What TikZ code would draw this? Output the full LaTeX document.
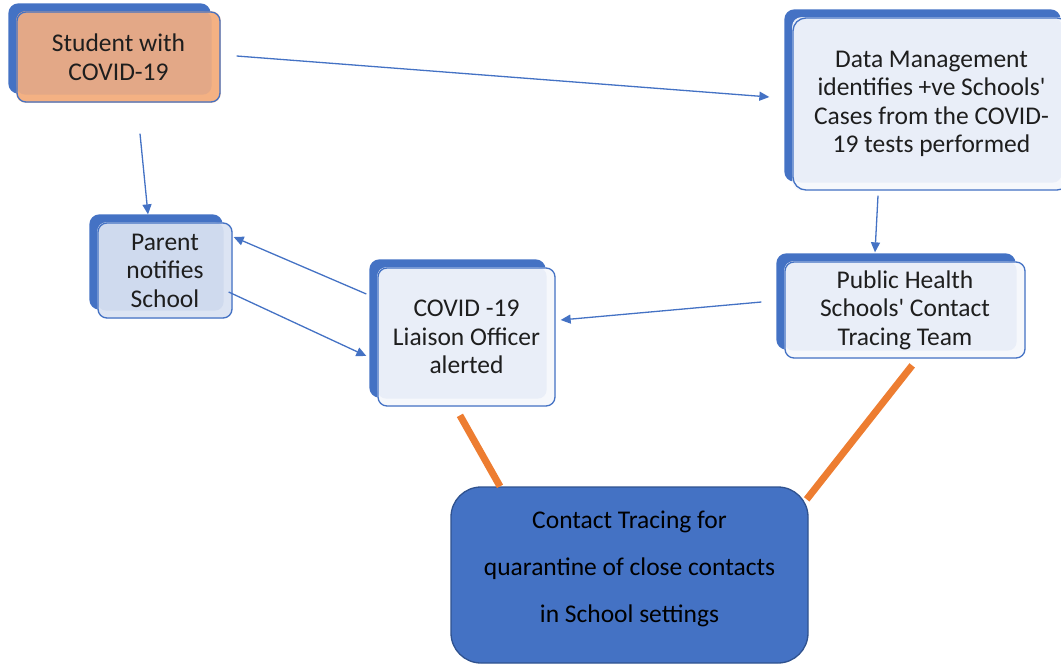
\documentclass[tikz,border=0pt]{standalone}
\usepackage{fontspec}
\setmainfont{Carlito}[Ligatures=TeXOff]
\usetikzlibrary{arrows.meta,calc}
\pgfdeclarelayer{back}
\pgfsetlayers{back,main}
\definecolor{sblue}{HTML}{4472C4}
\definecolor{dblue}{HTML}{2F528F}
\definecolor{orng}{HTML}{ED7D31}
\definecolor{txt}{HTML}{1E1E1E}
\definecolor{rimblue}{HTML}{F6F8FC}
\definecolor{inblue}{HTML}{E9EEF8}
\definecolor{rimpar}{HTML}{DCE4F3}
\definecolor{inpar}{HTML}{CFDAEE}
\definecolor{rimor}{HTML}{F4B183}
\definecolor{inor}{HTML}{E3A887}
\begin{document}
\begin{tikzpicture}[x=1pt,y=-1pt,
  box/.style={draw=sblue, line width=1.3pt, rounded corners=9pt, align=center,
    font=\fontsize{25.5}{28.5}\selectfont, text=txt, inner sep=0pt},
  arr/.style={draw=sblue, line width=1.3pt, -{Triangle[length=10pt,width=9pt]}},
  oline/.style={draw=orng, line width=7pt},
  shad/.style={fill=sblue, rounded corners=10pt}]
\useasboundingbox (0,0) rectangle (1061,665);

\node[box, minimum width=203pt, minimum height=90pt] (student) at (118.5,57) {Student with\\COVID-19};
\node[box, minimum width=277pt, minimum height=172pt, rounded corners=13pt] (data) at (931.5,104) {Data Management\\identifies +ve Schools'\\Cases from the COVID-\\19 tests performed};
\node[box, minimum width=134pt, minimum height=95pt] (parent) at (165,270.5) {Parent\\notifies\\School};
\node[box, minimum width=177pt, minimum height=138pt] (liaison) at (466.5,337) {COVID -19\\Liaison Officer\\alerted};
\node[box, minimum width=240pt, minimum height=96pt] (ph) at (905,310) {Public Health\\Schools' Contact\\Tracing Team};
\node[draw=dblue, fill=sblue, line width=1.3pt, rounded corners=30pt, minimum width=357pt, minimum height=176pt] (ct) at (629.5,575) {};
\node[align=center, font=\fontsize{25.5}{47}\selectfont, text=black] (cttext) at (629.5,569) {Contact Tracing for\\quarantine of close contacts\\in School settings};

\begin{pgfonlayer}{back}
  \foreach \n/\rim/\inn in {student/rimor/inor, data/rimblue/inblue, parent/rimpar/inpar, liaison/rimblue/inblue, ph/rimblue/inblue}{
    \fill[shad] ([shift={(-8,-8)}]\n.north west) rectangle ([shift={(-10,-9)}]\n.south east);
    \fill[\rim, rounded corners=9pt] (\n.north west) rectangle (\n.south east);
    \fill[\inn, rounded corners=9pt] (\n.north west) rectangle ([shift={(-9,-8)}]\n.south east);
  }
\end{pgfonlayer}

\draw[arr] ([shift={(16,-1)}]student.east) -- ([shift={(-23,-7)}]data.west);
\draw[arr] ([shift={(21.5,31)}]student.south) -- ([shift={(-17,-8)}]parent.north);
\draw[arr] ([shift={(-53.5,5)}]data.south) -- ([shift={(-30,-9)}]ph.north);
\draw[arr] ([shift={(-23,-8)}]ph.west) -- ([shift={(5,-17)}]liaison.east);
\draw[arr] ([shift={(-11,-43)}]liaison.west) -- ([shift={(1,-33.5)}]parent.east);
\draw[arr] ([shift={(-4,21.5)}]parent.east) -- ([shift={(-11,19)}]liaison.west);

\draw[oline, shorten <=10pt] ([xshift=-11.5pt]liaison.south) -- ([xshift=-129.5pt]ct.north);
\draw[oline, shorten <=8.6pt] ([xshift=12.5pt]ph.south) -- ([shift={(-2,13)}]ct.north east);
\end{tikzpicture}
\end{document}
